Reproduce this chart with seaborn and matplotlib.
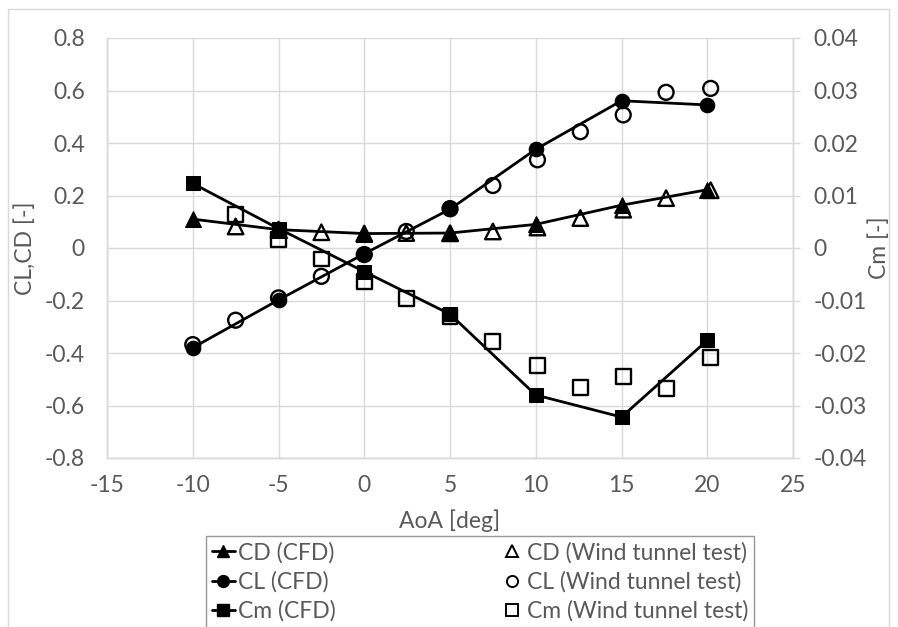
import matplotlib
matplotlib.use("Agg")
import matplotlib.pyplot as plt
import seaborn as sns
import numpy as np
from matplotlib.lines import Line2D
from matplotlib.patches import Rectangle

# ---- data ----
aoa_cfd = [-10, -5, 0, 5, 10, 15, 20]
cd_cfd = [0.110, 0.070, 0.055, 0.057, 0.090, 0.163, 0.222]
cl_cfd = [-0.380, -0.198, -0.022, 0.148, 0.376, 0.561, 0.545]
cm_cfd = [0.0123, 0.0037, -0.0045, -0.0126, -0.0280, -0.0322, -0.0176]

aoa_wt_cd = [-7.5, -5, -2.5, 0, 2.45, 5, 7.5, 10.1, 12.6, 15.1, 17.6, 20.2]
cd_wt = [0.082, 0.070, 0.060, 0.055, 0.057, 0.056, 0.063, 0.078, 0.114, 0.146, 0.190, 0.220]

aoa_wt_cl = [-10, -7.5, -5, -2.5, 0, 2.45, 5, 7.5, 10.1, 12.6, 15.1, 17.6, 20.2]
cl_wt = [-0.368, -0.275, -0.190, -0.108, -0.025, 0.063, 0.150, 0.238, 0.336, 0.443, 0.507, 0.593, 0.608]

aoa_wt_cm = [-7.5, -5, -2.5, 0, 2.45, 5, 7.5, 10.1, 12.6, 15.1, 17.6, 20.2]
cm_wt = [0.0063, 0.0016, -0.0021, -0.0063, -0.0097, -0.0131, -0.0178, -0.0224, -0.0265, -0.0245, -0.0268, -0.0208]

x_ticks = [-15, -10, -5, 0, 5, 10, 15, 20, 25]
y_ticks = [-0.8, -0.6, -0.4, -0.2, 0, 0.2, 0.4, 0.6, 0.8]
y2_ticks = [-0.04, -0.03, -0.02, -0.01, 0, 0.01, 0.02, 0.03, 0.04]

labels = ["CD (CFD)", "CL (CFD)", "Cm (CFD)",
          "CD (Wind tunnel test)", "CL (Wind tunnel test)", "Cm (Wind tunnel test)"]

# ---- style ----
sns.set_theme(style="white")
plt.rcParams['font.family'] = ['Lato', 'DejaVu Sans']
txt = '#595959'
grid_c = '#d9d9d9'
fs = 16.5

W, H = 898, 627
fig = plt.figure(figsize=(W / 100, H / 100), dpi=100)
L, R, T, B = 107, 793, 38, 458
ax = fig.add_axes([L / W, 1 - B / H, (R - L) / W, (B - T) / H])
ax2 = ax.twinx()

lw = 2.0
ms = 10.5
# CFD lines
sns.lineplot(x=aoa_cfd, y=cd_cfd, ax=ax, color='black', linewidth=lw, marker='^',
             markersize=ms + 1, markeredgecolor='black', sort=False, zorder=3)
sns.lineplot(x=aoa_cfd, y=cl_cfd, ax=ax, color='black', linewidth=lw, marker='o',
             markersize=ms, markeredgecolor='black', sort=False, zorder=3)
sns.lineplot(x=aoa_cfd, y=cm_cfd, ax=ax2, color='black', linewidth=lw, marker='s',
             markersize=ms, markeredgecolor='black', sort=False, zorder=3)
# Wind tunnel
sns.scatterplot(x=aoa_wt_cd, y=cd_wt, ax=ax, marker='^', s=125, facecolors='none',
                edgecolors='black', linewidths=1.7, zorder=4)
sns.scatterplot(x=aoa_wt_cl, y=cl_wt, ax=ax, marker='o', s=115, facecolors='none',
                edgecolors='black', linewidths=1.7, zorder=4)
sns.scatterplot(x=aoa_wt_cm, y=cm_wt, ax=ax2, marker='s', s=115, facecolors='none',
                edgecolors='black', linewidths=1.7, zorder=4)

ax.set_xlim(-15, 25)
ax.set_ylim(-0.8, 0.8)
ax2.set_ylim(-0.04, 0.04)
ax.set_xticks(x_ticks)
ax.set_xticklabels([f"{v:g}" for v in x_ticks])
ax.set_yticks(y_ticks)
ax.set_yticklabels([f"{v:g}" for v in y_ticks])
ax2.set_yticks(y2_ticks)
ax2.set_yticklabels([f"{v:g}" for v in y2_ticks])

ax.grid(True, color=grid_c, linewidth=1.0)
ax.set_axisbelow(True)
for a in (ax, ax2):
    a.spines['top'].set_visible(False)
    for s in ['left', 'bottom', 'right']:
        a.spines[s].set_color(grid_c)
        a.spines[s].set_linewidth(1.0)
ax.tick_params(axis='x', length=0, labelsize=fs, labelcolor=txt, pad=12)
ax.tick_params(axis='y', length=0, labelsize=fs, labelcolor=txt, pad=16)
ax2.tick_params(axis='y', length=5, width=1.0, color=grid_c, direction='out',
                labelsize=fs, labelcolor=txt, pad=10)

ax.set_xlabel("AoA [deg]", fontsize=fs, color=txt, labelpad=10)
ax.set_ylabel("CL,CD [-]", fontsize=fs, color=txt, labelpad=6)
ax2.set_ylabel("Cm [-]", fontsize=fs, color=txt, labelpad=1)

# legend
h = [
    Line2D([], [], color='black', lw=lw, marker='^', markersize=8.5),
    Line2D([], [], color='black', lw=lw, marker='o', markersize=8.5),
    Line2D([], [], color='black', lw=lw, marker='s', markersize=8.5),
    Line2D([], [], color='none', marker='^', markersize=8, markerfacecolor='none',
           markeredgecolor='black', markeredgewidth=1.4),
    Line2D([], [], color='none', marker='o', markersize=8, markerfacecolor='none',
           markeredgecolor='black', markeredgewidth=1.4),
    Line2D([], [], color='none', marker='s', markersize=8, markerfacecolor='none',
           markeredgecolor='black', markeredgewidth=1.4),
]
leg = fig.legend(h, labels, ncol=2, loc='upper center',
                 bbox_to_anchor=(480 / W, 1 - 536 / H), fontsize=fs,
                 frameon=True, fancybox=False, edgecolor='#7f7f7f',
                 handlelength=1.0, handletextpad=0.15, columnspacing=7.2,
                 labelspacing=0.34, borderpad=0.25, borderaxespad=0)
leg.get_frame().set_linewidth(1.0)
for t in leg.get_texts():
    t.set_color(txt)

# outer border
fig.patches.append(Rectangle((8 / W, -0.1), (889 - 8) / W, 1.1 - 9 / H,
                             transform=fig.transFigure, fill=False,
                             edgecolor=grid_c, linewidth=1.0))

fig.savefig("out.png", dpi=100)
